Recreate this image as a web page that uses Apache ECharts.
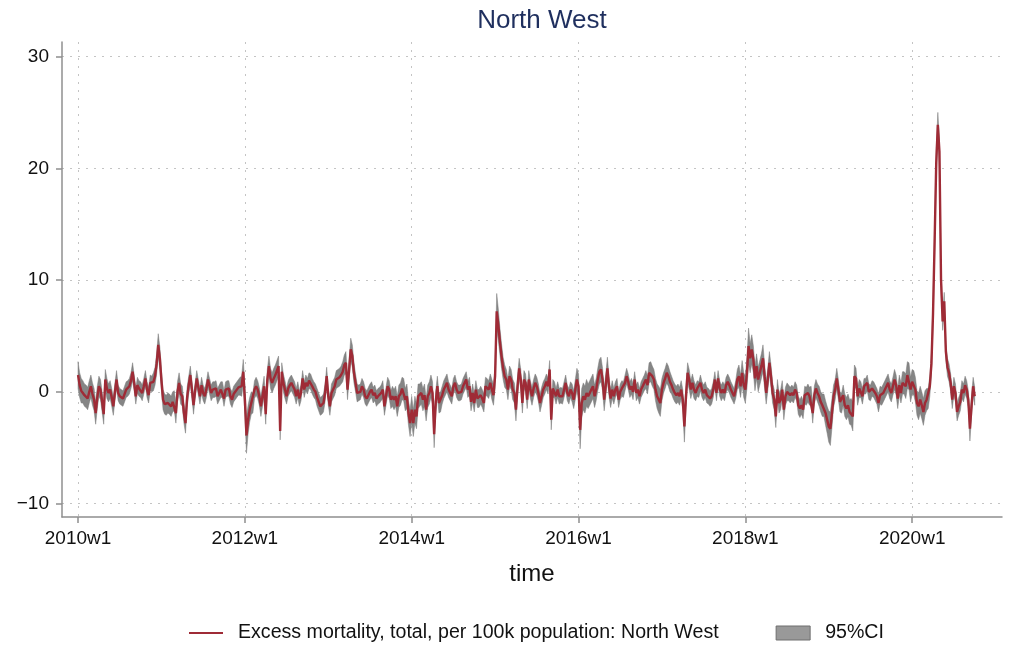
<!DOCTYPE html>
<html><head><meta charset="utf-8">
<script src="https://cdn.jsdelivr.net/npm/echarts@6/dist/echarts.min.js"></script>
<style>html,body{margin:0;padding:0;background:#fff}#c{width:1010px;height:646px}</style>
</head><body><div id="c"></div>
<script>
const chartTitle = 'North West';
const xAxisTitle = 'time';
const lineName = 'Excess mortality, total, per 100k population: North West';
const ciName = '95%CI';
// weeks counted from 2010w1 (Stata weekly: 52 weeks per year)
const xTickWeeks = [0, 104, 208, 312, 416, 520];
const xTickLabels = ['2010w1', '2012w1', '2014w1', '2016w1', '2018w1', '2020w1'];
const yTicks = [-10, 0, 10, 20, 30];

const excess = [
1.5,0.6,0.1,0.0,-0.3,-0.4,-0.6,0.0,0.5,-0.2,-0.7,-1.9,-0.5,0.5,0.2,-0.9,-2.0,1.1,0.3,-0.1,
0.2,-0.5,-1.3,0.0,1.1,-0.1,-0.4,-0.5,-0.6,-0.2,0.2,0.3,0.5,1.0,1.8,0.8,-0.4,0.6,0.3,0.2,
-0.1,0.5,1.2,0.2,-0.3,0.8,0.7,0.9,1.4,2.5,4.2,3.0,1.0,-0.7,-1.1,-1.2,-1.0,-1.1,-1.3,-0.9,
-0.8,-1.9,0.0,0.8,-0.2,-0.4,-1.9,-2.8,-0.5,0.6,1.5,0.2,-1.2,0.1,1.2,0.4,-0.4,0.6,-0.1,-0.4,
0.2,1.1,0.5,-0.1,0.2,0.2,0.3,-0.4,-0.1,0.2,0.2,-0.6,0.2,0.3,0.3,-0.4,-0.7,-0.2,0.0,0.2,
0.4,0.5,0.5,1.8,-0.7,-3.9,-2.5,-1.6,-1.0,-1.0,0.2,0.5,0.2,-0.4,-1.3,-0.4,0.5,-2.0,1.1,2.3,
1.2,0.8,1.2,1.5,1.9,2.3,-3.5,1.8,0.8,0.2,-0.4,0.3,0.6,0.8,0.5,0.2,-0.4,0.2,-0.6,-0.1,
1.2,0.2,0.8,0.5,1.0,0.9,0.5,0.2,0.0,-0.5,-0.9,-1.3,-1.2,-1.0,-0.1,1.4,-0.4,-1.3,-0.1,0.2,
0.5,1.1,1.2,1.3,1.5,1.8,2.4,2.6,0.2,2.0,3.8,3.2,1.7,0.8,-0.1,-0.1,0.0,0.5,0.2,-0.4,
-0.6,-0.3,0.0,0.2,-0.3,-0.1,-0.6,-0.4,-0.3,-0.1,0.2,-1.3,-0.4,0.5,0.2,-0.7,-0.4,-0.7,-0.4,-1.3,
-0.4,-0.2,0.3,0.2,-0.7,-0.4,-1.9,-2.8,-1.6,-2.8,-1.6,-2.2,-0.4,-0.3,-0.1,-0.7,-0.3,-1.6,-0.4,-0.1,
0.5,-0.1,-3.8,-0.9,0.5,-1.0,-0.9,-0.3,0.2,0.5,0.8,0.2,-0.1,-0.4,0.5,0.8,0.2,-0.1,-0.1,0.0,
0.5,0.8,1.1,0.2,0.5,-0.9,-0.1,-1.0,0.2,-0.6,-0.6,-0.3,-0.6,-1.0,0.5,0.4,0.2,0.8,0.2,-0.3,
1.4,7.2,6.0,4.5,3.2,2.1,1.4,1.1,0.2,1.4,1.1,0.2,-0.1,-1.6,0.5,2.1,1.1,-1.0,1.1,0.8,
-0.7,1.1,0.2,-0.4,0.3,0.8,0.5,-0.1,-1.0,-0.4,0.2,0.5,0.9,0.5,2.0,-2.5,0.3,0.2,-0.4,0.2,
-0.4,-0.3,-0.4,0.2,0.8,-0.1,-0.4,0.2,-0.1,-0.7,0.2,1.1,0.5,-3.4,-1.0,-0.4,-0.7,-0.1,-0.4,-0.1,
0.2,0.5,-0.4,0.2,1.1,1.8,2.0,1.1,-0.7,0.6,2.1,0.5,-0.6,0.2,-0.4,0.2,0.5,-0.7,0.0,0.3,
0.2,0.8,1.4,0.9,0.2,0.5,0.0,1.1,-0.1,0.2,-0.4,0.2,0.5,0.8,1.1,0.6,1.7,1.8,1.4,1.1,
0.2,-0.4,-0.7,-1.0,0.2,0.8,1.2,1.7,1.4,0.9,0.6,0.2,-0.1,-0.3,-0.1,-0.4,0.2,-0.7,-3.1,-0.4,
1.7,1.1,0.2,0.8,0.2,-0.1,0.3,0.2,0.8,0.2,-0.1,0.2,-0.3,-0.4,-0.6,-0.4,0.2,1.1,-0.1,1.2,
0.3,-0.1,0.2,-0.1,0.6,0.9,0.6,0.2,-0.1,-0.4,0.2,1.1,1.4,0.5,1.7,0.6,0.2,1.7,4.1,3.0,
3.8,2.9,1.2,2.3,1.1,1.7,2.3,3.0,1.4,-0.1,1.1,2.6,1.4,-0.1,-0.7,-2.2,0.2,-1.0,-0.7,0.2,
-1.6,-0.4,0.0,-0.1,-0.3,-0.1,-0.3,0.2,-0.1,-1.2,-1.5,-1.2,-1.6,-0.3,-0.4,-0.1,-0.4,-0.3,-1.9,-0.3,
0.3,-0.1,-0.4,-0.9,-1.2,-1.2,-1.9,-2.5,-3.1,-3.3,-1.9,-0.4,0.2,1.2,0.2,-0.9,-1.0,-0.3,-1.2,-1.5,
-1.2,-1.8,-1.8,-2.2,1.4,1.2,-0.4,0.3,0.2,-0.4,0.5,0.5,0.8,0.0,-0.1,0.3,0.2,-0.1,-0.4,-1.0,
-0.3,-0.4,-0.1,0.2,0.5,0.8,0.2,-0.1,0.5,1.1,0.6,-0.6,0.6,-0.1,0.8,0.8,0.5,1.5,1.4,0.2,
0.9,0.8,0.2,-1.0,-1.3,-0.7,-1.2,-1.8,-1.0,-0.7,-0.6,0.5,2.5,7.0,13.5,20.5,23.9,21.5,10.0,6.3,
8.1,3.6,2.2,1.7,0.8,-0.7,0.5,-0.1,-1.8,-1.3,-0.9,0.2,-0.1,0.6,0.2,-0.7,-3.3,-1.3,0.5,-0.4
];

const ciHalf = [
1.2,1.1,1.1,1.0,1.0,1.0,1.0,1.0,1.0,1.0,1.0,1.0,1.0,0.9,0.9,0.9,0.9,0.9,0.9,0.8,
0.8,0.8,0.8,0.8,0.8,0.7,0.7,0.7,0.7,0.7,0.7,0.7,0.7,0.7,0.8,0.7,0.7,0.7,0.7,0.7,
0.7,0.7,0.7,0.7,0.7,0.7,0.7,0.8,0.8,0.9,1.0,1.0,0.9,0.9,0.9,0.9,0.9,0.9,0.9,0.9,
0.9,0.9,0.9,0.9,0.9,0.9,0.9,0.9,0.9,0.8,0.8,0.8,0.8,0.7,0.7,0.7,0.7,0.7,0.7,0.7,
0.7,0.7,0.7,0.7,0.7,0.7,0.7,0.7,0.7,0.7,0.7,0.7,0.7,0.7,0.7,0.7,0.7,0.7,0.7,0.7,
0.7,0.8,0.9,1.1,1.3,1.6,1.3,1.1,1.0,0.9,0.8,0.8,0.8,0.8,0.9,0.9,0.9,0.9,0.9,0.9,
0.9,0.9,0.9,0.9,0.9,0.9,0.8,0.8,0.8,0.8,0.7,0.7,0.7,0.7,0.7,0.7,0.7,0.7,0.7,0.7,
0.7,0.7,0.7,0.7,0.7,0.7,0.7,0.7,0.7,0.8,0.8,0.8,0.8,0.8,0.8,0.8,0.8,0.8,0.8,0.8,
0.8,0.8,0.8,0.8,0.8,0.9,0.9,1.0,0.9,0.9,1.0,1.0,0.9,0.8,0.8,0.7,0.7,0.7,0.7,0.7,
0.7,0.7,0.7,0.7,0.7,0.7,0.7,0.7,0.7,0.7,0.8,0.8,0.8,0.8,0.8,0.8,0.9,0.9,0.9,0.9,
1.0,1.0,1.0,1.0,1.0,1.1,1.1,1.2,1.2,1.2,1.2,1.1,1.1,1.0,1.0,1.0,1.0,1.0,1.0,1.0,
1.0,1.0,1.2,1.0,0.9,0.9,0.9,0.8,0.8,0.8,0.8,0.7,0.7,0.7,0.7,0.7,0.7,0.7,0.7,0.7,
0.7,0.7,0.7,0.7,0.8,0.8,0.8,0.8,0.8,0.8,0.8,0.8,0.8,0.8,0.8,0.8,0.8,0.8,0.9,0.9,
1.1,1.6,1.4,1.2,1.1,1.0,1.0,0.9,0.9,0.9,0.9,0.9,0.9,1.0,0.9,0.9,0.9,0.9,0.8,0.8,
0.8,0.8,0.8,0.8,0.8,0.8,0.8,0.8,0.8,0.8,0.7,0.7,0.7,0.7,0.8,0.9,0.8,0.7,0.7,0.7,
0.7,0.7,0.7,0.7,0.7,0.7,0.7,0.7,0.8,0.8,0.9,1.0,1.1,1.7,1.3,1.2,1.2,1.2,1.1,1.1,
1.1,1.1,1.0,1.0,1.0,1.1,1.1,1.0,1.0,1.0,1.0,0.9,0.8,0.8,0.7,0.7,0.7,0.7,0.7,0.7,
0.7,0.7,0.7,0.7,0.7,0.7,0.7,0.7,0.7,0.7,0.7,0.7,0.7,0.7,0.8,0.8,0.9,0.9,0.9,0.9,
1.0,1.1,1.2,1.2,1.0,0.9,0.9,0.9,0.9,0.9,0.8,0.8,0.8,0.8,0.8,0.8,0.8,0.9,1.4,1.0,
0.9,0.9,0.8,0.8,0.8,0.7,0.7,0.7,0.7,0.7,0.7,0.7,0.7,0.7,0.7,0.7,0.7,0.7,0.7,0.7,
0.7,0.7,0.7,0.7,0.7,0.7,0.7,0.7,0.7,0.7,0.8,0.9,1.0,1.0,1.1,1.1,1.2,1.4,1.6,1.3,
1.3,1.2,1.1,1.1,1.1,1.1,1.1,1.2,1.1,1.0,1.0,1.0,1.0,0.9,0.9,1.0,0.9,0.9,0.9,0.8,
0.9,0.8,0.8,0.7,0.7,0.7,0.7,0.7,0.7,0.8,0.8,0.8,0.8,0.8,0.8,0.8,0.8,0.8,0.9,0.8,
0.8,0.8,0.9,0.9,1.0,1.0,1.1,1.2,1.4,1.5,1.3,1.0,0.9,0.9,0.9,0.9,0.9,0.9,1.0,1.0,
1.0,1.1,1.2,1.3,1.0,0.9,0.8,0.8,0.7,0.7,0.7,0.7,0.7,0.7,0.7,0.7,0.7,0.7,0.7,0.8,
0.8,0.8,0.8,0.8,0.8,0.8,0.8,0.8,0.8,0.9,0.9,0.9,0.9,0.9,1.0,1.0,1.1,1.2,1.2,1.1,
1.1,1.1,1.1,1.1,1.2,1.2,1.2,1.2,1.1,1.0,0.9,0.9,0.9,1.0,1.1,1.1,1.1,1.0,0.9,0.8,
0.8,0.8,0.8,0.8,0.8,0.8,0.8,0.8,0.8,0.8,0.8,0.8,0.8,0.8,0.8,0.8,1.1,0.9,0.8,0.8
];

const lineData = excess.map((v, i) => [i, v]);
const bandData = excess.map((v, i) => [i, +(v - ciHalf[i]).toFixed(2), +(v + ciHalf[i]).toFixed(2)]);

const FONT = '"Liberation Sans", Arial, sans-serif';
const gridDots = { color: '#c4c4c4', width: 1, type: [2, 6] };
const LINE_COLOR = '#9f2b36';

const chart = echarts.init(document.getElementById('c'), null, { renderer: 'canvas' });
chart.setOption({
  animation: false,
  backgroundColor: '#ffffff',
  textStyle: { fontFamily: FONT },
  title: {
    text: chartTitle, left: 537, top: 3, textAlign: 'center',
    textStyle: { fontFamily: FONT, fontSize: 26, fontWeight: 'normal', color: '#1f2f5e' }
  },
  grid: { left: 62, right: 8, top: 42, bottom: 129, containLabel: false },
  legend: {
    left: 183, top: 618, itemGap: 57, itemWidth: 34, itemHeight: 14,
    textStyle: { fontFamily: FONT, fontSize: 19.6, color: '#111', padding: [0, 0, 0, 10] },
    data: [
      { name: lineName, itemStyle: { opacity: 0 }, lineStyle: { color: LINE_COLOR, width: 2 } },
      { name: ciName, icon: 'rect', itemStyle: { color: '#999999', borderColor: '#6f6f6f', borderWidth: 1 } }
    ]
  },
  xAxis: {
    type: 'value', min: -10, max: 576,
    name: xAxisTitle, nameLocation: 'middle', nameGap: 45,
    nameTextStyle: { fontFamily: FONT, fontSize: 24, color: '#111' },
    axisLine: { show: true, onZero: false, lineStyle: { color: '#8f8f8f', width: 1.5 } },
    axisTick: { show: true, length: 6, customValues: xTickWeeks, lineStyle: { color: '#8f8f8f', width: 1.5 } },
    axisLabel: {
      customValues: xTickWeeks, margin: 12, fontSize: 19, color: '#111', fontFamily: FONT,
      formatter: v => xTickLabels[xTickWeeks.indexOf(v)] || ''
    },
    splitLine: { show: true, lineStyle: gridDots }
  },
  yAxis: {
    type: 'value', min: -11.2, max: 31.3,
    axisLine: { show: true, onZero: false, lineStyle: { color: '#8f8f8f', width: 1.5 } },
    axisTick: { show: true, length: 6, customValues: yTicks, lineStyle: { color: '#8f8f8f', width: 1.5 } },
    axisLabel: {
      customValues: yTicks, margin: 13, fontSize: 19, color: '#111', fontFamily: FONT,
      formatter: v => String(v).replace('-', '\u2212')
    },
    splitLine: { show: true, lineStyle: gridDots }
  },
  series: [
    {
      name: ciName, type: 'custom', clip: true, z: 2,
      itemStyle: { color: '#999999' },
      encode: { x: 0, y: [1, 2] },
      data: bandData,
      renderItem: function (params, api) {
        if (params.dataIndex !== 0) return null;
        const up = [], lo = [];
        for (let i = 0; i < bandData.length; i++) {
          up.push(api.coord([bandData[i][0], bandData[i][2]]));
          lo.push(api.coord([bandData[i][0], bandData[i][1]]));
        }
        return { type: 'polygon', shape: { points: up.concat(lo.reverse()) }, style: { fill: '#858585', stroke: '#7a7a7a', lineWidth: 0.5 } };
      }
    },
    {
      name: lineName, type: 'line', data: lineData, z: 3,
      symbol: 'none', showSymbol: false,
      lineStyle: { color: LINE_COLOR, width: 2.4 },
      itemStyle: { color: LINE_COLOR }
    }
  ]
});
</script>
</body></html>
